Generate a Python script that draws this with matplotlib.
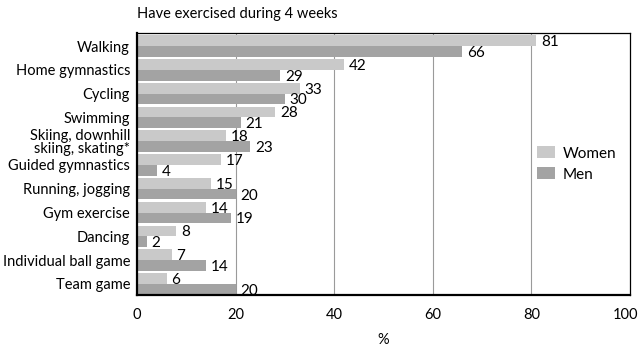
import matplotlib
matplotlib.use("Agg")
import matplotlib.pyplot as plt
import matplotlib.transforms as mtransforms
import numpy as np

plt.rcParams['font.family'] = ['Lato', 'DejaVu Sans']

categories = ["Walking", "Home gymnastics", "Cycling", "Swimming",
              "Skiing, downhill\nskiing, skating*", "Guided gymnastics",
              "Running, jogging", "Gym exercise", "Dancing",
              "Individual ball game", "Team game"]
women = [81, 42, 33, 28, 18, 17, 15, 14, 8, 7, 6]
men = [66, 29, 30, 21, 23, 4, 20, 19, 2, 14, 20]
xticks = [0, 20, 40, 60, 80, 100]

women_color = "#c9c9c9"
men_color = "#a3a3a3"

fig = plt.figure(figsize=(6.41, 3.49), dpi=100)
ax = fig.add_axes([0.2137, 0.1547, 0.7693, 0.7507])

y = np.arange(len(categories))
h = 0.45
ax.barh(y - h / 2, women, height=h, color=women_color, label="Women", zorder=2)
ax.barh(y + h / 2, men, height=h, color=men_color, label="Men", zorder=2)

for yi, w, m in zip(y, women, men):
    ax.text(w + 1.0, yi - h / 2 + 0.06, str(w), va="center", ha="left", fontsize=11, zorder=3)
    ax.text(m + 1.0, yi + h / 2 + 0.06, str(m), va="center", ha="left", fontsize=11, zorder=3)

ax.set_xlim(0, 100)
ax.set_ylim(len(categories) - 1 + 0.47, -0.55)
ax.set_xticks(xticks)
ax.set_xticklabels([str(t) for t in xticks], fontsize=10.5)
ax.set_yticks(y)
ax.set_yticklabels(categories, fontsize=10.5, linespacing=0.9)
ax.tick_params(axis="y", length=0, pad=5)
ax.tick_params(axis="x", length=0, pad=9)

# nudge the last tick label inward so it stays on the canvas
last = ax.get_xticklabels()[-1]
last.set_transform(last.get_transform() +
                   mtransforms.ScaledTranslation(-5 / 100, 0, fig.dpi_scale_trans))

for t in xticks[1:-1]:
    ax.axvline(t, color="#9a9a9a", linewidth=0.8, zorder=1)

for side in ["top", "right"]:
    ax.spines[side].set_linewidth(0.9)
for side in ["left", "bottom"]:
    ax.spines[side].set_linewidth(1.6)

ax.set_xlabel("%", fontsize=10.5, labelpad=8)
ax.text(0, 1.045, "Have exercised during 4 weeks", transform=ax.transAxes,
        ha="left", va="bottom", fontsize=10.5)

leg = ax.legend(loc="center right", bbox_to_anchor=(1.0, 0.5), frameon=False,
                fontsize=11, handlelength=1.2, handleheight=0.8,
                handletextpad=0.5, labelspacing=0.45)

fig.savefig("out.png", dpi=100)
